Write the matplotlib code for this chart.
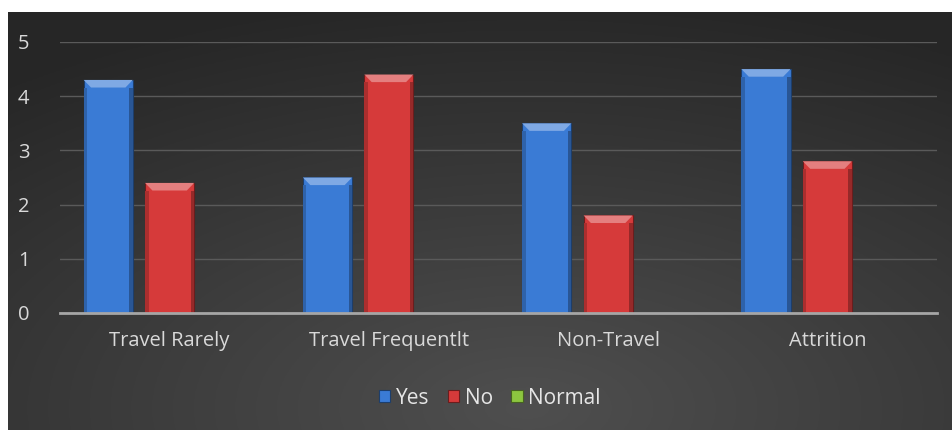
import numpy as np
import matplotlib
matplotlib.use('Agg')
import matplotlib.pyplot as plt
from matplotlib.patches import Polygon, Rectangle
from matplotlib.colors import to_rgb

categories = ["Travel Rarely", "Travel Frequentlt", "Non-Travel", "Attrition"]
series_names = ["Yes", "No", "Normal"]
yes_vals = [4.3, 2.5, 3.5, 4.5]
no_vals = [2.4, 4.4, 1.8, 2.8]
normal_vals = [0, 0, 0, 0]
colors = ["#3a7bd5", "#d63a3a", "#8cc63f"]

W, H = 953, 430
fig = plt.figure(figsize=(W / 100, H / 100), dpi=100)
fig.patch.set_facecolor("white")

# dark radial-ish background
bg = fig.add_axes([8 / W, 0, 1 - 8 / W, 1 - 12 / H])
yy, xx = np.mgrid[0:1:200j, 0:1:400j]
d = np.sqrt(((xx - 0.55) / 0.9) ** 2 + ((yy - 0.05) / 1.0) ** 2)
shade = np.clip(0.31 - 0.16 * d, 0.15, 0.31)
bg.imshow(np.dstack([shade] * 3), aspect="auto", extent=[0, 1, 0, 1], origin="lower")
bg.axis("off")

ax = fig.add_axes([60 / W, 1 - 313 / H, (937 - 60) / W, (313 - 42) / H])
ax.set_facecolor("none")
ax.set_xlim(-0.5, 3.5)
ax.set_ylim(0, 5)

x = np.arange(len(categories))
bw = 0.224
step = 0.28
allvals = [yes_vals, no_vals, normal_vals]


def shade_col(c, f):
    r, g, b = to_rgb(c)
    if f > 1:
        return tuple(min(1, v + (1 - v) * (f - 1)) for v in (r, g, b))
    return tuple(v * f for v in (r, g, b))


for i, (vals, col) in enumerate(zip(allvals, colors)):
    xs = x + (i - 1) * step
    ax.bar(xs, vals, width=bw, color=col, edgecolor=shade_col(col, 0.5),
           linewidth=0.8, zorder=3, label=series_names[i])
    for xc, v in zip(xs, vals):
        if v <= 0:
            continue
        l, r = xc - bw / 2, xc + bw / 2
        bx = bw * 0.15
        by = 0.14
        # top bevel
        ax.add_patch(Polygon([(l, v), (r, v), (r - bx, v - by), (l + bx, v - by)],
                             closed=True, color=shade_col(col, 1.35), lw=0, zorder=4))
        # side shading
        ax.add_patch(Rectangle((l, 0), bw * 0.07, v - by, color=shade_col(col, 0.8), lw=0, zorder=4))
        ax.add_patch(Rectangle((r - bw * 0.07, 0), bw * 0.07, v - by, color=shade_col(col, 0.7), lw=0, zorder=4))

ax.set_yticks([0, 1, 2, 3, 4, 5])
ax.set_xticks(x)
ax.set_xticklabels(categories)
ax.yaxis.grid(True, color="#5a5a5a", linewidth=1.0, zorder=0)
ax.set_axisbelow(True)
for s in ["top", "right", "left"]:
    ax.spines[s].set_visible(False)
ax.spines["bottom"].set_color("#a6a6a6")
ax.spines["bottom"].set_linewidth(2)
ax.spines["bottom"].set_zorder(5)
ax.tick_params(axis="both", length=0, colors="#d9d9d9", labelsize=14.5)
ax.tick_params(axis="x", pad=13)
ax.tick_params(axis="y", pad=22)
for t in ax.get_xticklabels() + ax.get_yticklabels():
    t.set_family("Open Sans")

leg = fig.legend(loc="center", bbox_to_anchor=(0.514, 1 - 398 / H), ncol=3, frameon=False,
                 handlelength=0.55, handleheight=0.55, handletextpad=0.25, columnspacing=0.9,
                 prop={"family": "Open Sans", "size": 15})
for t in leg.get_texts():
    t.set_color("#e6e6e6")

fig.savefig("out.png", dpi=100, facecolor=fig.get_facecolor())
